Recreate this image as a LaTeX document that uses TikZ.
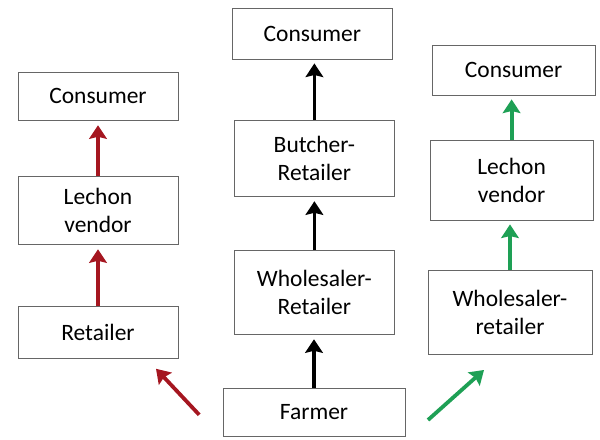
\documentclass[tikz,border=0pt]{standalone}
\usepackage{fontspec}
\setmainfont{Carlito}
\usetikzlibrary{arrows.meta}

\definecolor{chainred}{RGB}{165,22,32}
\definecolor{chaingreen}{RGB}{30,160,85}

\begin{document}
\begin{tikzpicture}[
  box/.style={draw=gray!80!black, line width=0.6pt, align=center, inner sep=0pt,
    font=\fontsize{16.7}{20}\selectfont},
  flow/.style={line width=2.7pt, -{Stealth[length=0.34cm, width=0.44cm, inset=0.05cm]},
    shorten >=0.1cm}
]
\useasboundingbox (0,0) rectangle (15,11);

% Left chain
\node[box, minimum width=4cm, minimum height=1.22cm] (lcons) at (2.45,8.59) {Consumer};
\node[box, minimum width=4cm, minimum height=1.72cm] (llech) at (2.45,5.74) {Lechon\\vendor};
\node[box, minimum width=4cm, minimum height=1.3cm] (lret) at (2.45,2.68) {Retailer};

% Middle chain
\node[box, minimum width=4.02cm, minimum height=1.27cm] (mcons) at (7.81,10.16) {Consumer};
\node[box, minimum width=4.02cm, minimum height=1.92cm] (mbut) at (7.86,7.04) {Butcher-\\Retailer};
\node[box, minimum width=4.02cm, minimum height=2.12cm] (mwho) at (7.86,3.69) {Wholesaler-\\Retailer};
\node[box, minimum width=4.55cm, minimum height=1.22cm] (farmer) at (7.85,0.69) {Farmer};

% Right chain
\node[box, minimum width=4.07cm, minimum height=1.25cm] (rcons) at (12.84,9.25) {Consumer};
\node[box, minimum width=4.07cm, minimum height=2cm] (rlech) at (12.79,6.5) {Lechon\\vendor};
\node[box, minimum width=4.1cm, minimum height=2.12cm] (rwho) at (12.75,3.19) {Wholesaler-\\retailer};

% Free ends of the slanted arrows
\coordinate (redtail) at (4.98,0.63);
\coordinate (redtip) at (3.9,1.78);
\coordinate (greentail) at (10.7,0.5);
\coordinate (greentip) at (12.1,1.75);

% Arrows
\draw[flow, chainred] (llech.north) -- (llech.north |- lcons.south);
\draw[flow, chainred] (lret.north) -- (lret.north |- llech.south);
\draw[flow, chainred, shorten >=0pt] (redtail) -- (redtip);

\draw[flow] (mbut.north) -- (mbut.north |- mcons.south);
\draw[flow] (mwho.north) -- (mwho.north |- mbut.south);
\draw[flow] (farmer.north) -- (farmer.north |- mwho.south);

\draw[flow, chaingreen] (rlech.north) -- (rlech.north |- rcons.south);
\draw[flow, chaingreen] (rwho.north) -- (rwho.north |- rlech.south);
\draw[flow, chaingreen, shorten >=0pt] (greentail) -- (greentip);
\end{tikzpicture}
\end{document}
